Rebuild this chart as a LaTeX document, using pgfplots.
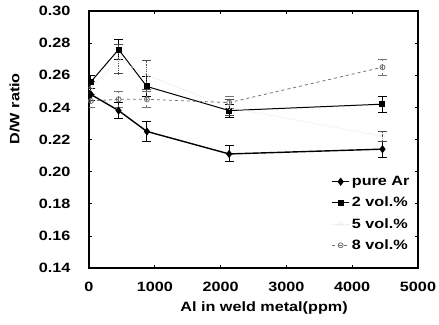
\documentclass[border=0pt]{standalone}
\usepackage{pgfplots}
\pgfplotsset{compat=1.18}
\usepackage{fontspec}
\setmainfont[FakeStretch=1.2]{Liberation Sans}
\begin{document}
\begin{tikzpicture}[x=1pt,y=1pt]
\useasboundingbox (-89pt,-56pt) rectangle (350pt,268pt);
\begin{axis}[
  at={(0,0)}, anchor=south west,
  scale only axis, width=329pt, height=257pt,
  xmin=0, xmax=5000, ymin=0.14, ymax=0.30,
  xtick={0,1000,...,5000}, ytick={0.14,0.16,...,0.30},
  yticklabel style={/pgf/number format/fixed,/pgf/number format/fixed zerofill,/pgf/number format/precision=2, xshift=-15pt},
  xticklabel style={/pgf/number format/1000 sep={}, yshift=-11pt},
  /pgf/number format/assume math mode=true,
  scaled ticks=false,
  tick align=inside, major tick length=3pt,
  axis line style={line width=1.2pt},
  tick style={black, line width=0.6pt},
  ticklabel style={font=\bfseries\fontsize{13.5}{15}\selectfont},
  xlabel={Al in weld metal(ppm)}, ylabel={D/W ratio},
  label style={font=\bfseries\fontsize{13.5}{15}\selectfont},
  xlabel style={at={(axis description cs:0.532,-0.156)}, anchor=center},
  ylabel style={at={(axis description cs:-0.226,0.62)}, anchor=center},
  legend style={draw=none, fill=none, at={(0.99,0.05)}, anchor=south east,
    font=\bfseries\fontsize{13.5}{15}\selectfont, row sep=6pt},
  legend cell align=left,
  error bars/error bar style={line width=1pt},
  error bars/error mark options={rotate=90, mark size=4.5pt, line width=1pt},
]
\addplot[black, line width=1.4pt, mark=diamond*, mark size=3pt,
  error bars/.cd, y dir=both, y explicit] coordinates {
  (30,0.248) +- (0,0.004)
  (450,0.238) +- (0,0.005)
  (880,0.225) +- (0,0.006)
  (2130,0.211) +- (0,0.005)
  (4460,0.214) +- (0,0.005)
};
\addlegendentry{pure Ar}
\addplot[black, line width=1pt, mark=square*, mark size=2.5pt,
  error bars/.cd, y dir=both, y explicit] coordinates {
  (30,0.256) +- (0,0.004)
  (450,0.276) +- (0,0.006)
  (880,0.253) +- (0,0.006)
  (2130,0.238) +- (0,0.004)
  (4460,0.242) +- (0,0.005)
};
\addlegendentry{2 vol.\%}
\addplot[black!10, densely dotted, line width=0.8pt, mark=o, mark size=2pt,
  error bars/.cd, y dir=both, y explicit, error bar style={black!70}] coordinates {
  (30,0.252) +- (0,0.004)
  (450,0.270) +- (0,0.009)
  (880,0.260) +- (0,0.009)
  (2130,0.240) +- (0,0.005)
  (4460,0.222) +- (0,0.003)
};
\addlegendentry{5 vol.\%}
\addplot[black!55, dashed, line width=0.8pt, mark=o, mark size=2.5pt, mark options={solid},
  error bars/.cd, y dir=both, y explicit] coordinates {
  (30,0.244) +- (0,0.004)
  (450,0.245) +- (0,0.005)
  (880,0.245) +- (0,0.005)
  (2130,0.243) +- (0,0.004)
  (4460,0.265) +- (0,0.005)
};
\addlegendentry{8 vol.\%}
\end{axis}
\end{tikzpicture}
\end{document}
